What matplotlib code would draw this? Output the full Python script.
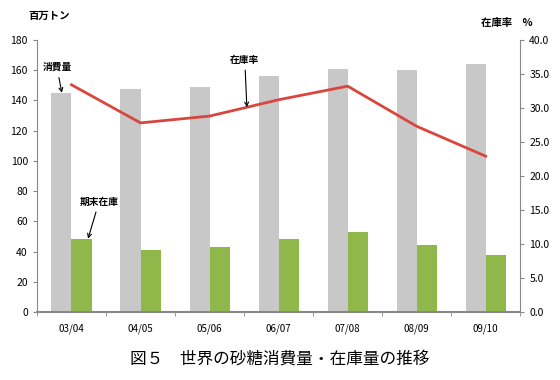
import matplotlib
matplotlib.use("Agg")
import matplotlib.pyplot as plt
import numpy as np

plt.rcParams['font.family'] = ['Noto Sans CJK JP', 'DejaVu Sans']

categories = ["03/04", "04/05", "05/06", "06/07", "07/08", "08/09", "09/10"]
consumption = [145, 147.5, 149, 156, 161, 160, 164]
stock = [48.5, 41, 43, 48.5, 53, 44, 37.5]
stock_ratio = [33.4, 27.8, 28.8, 31.2, 33.2, 27.3, 22.9]

fig = plt.figure(figsize=(5.6, 3.8), dpi=100)
ax = fig.add_axes([0.066, 0.179, 0.863, 0.716])
x = np.arange(len(categories))
w = 0.29
ax.bar(x - w/2, consumption, width=w, color="#c8c8c8", zorder=2)
ax.bar(x + w/2, stock, width=w, color="#8fb74a", zorder=2)
ax.set_xlim(-0.5, len(categories) - 0.5)
ax.set_ylim(0, 180)
ax.set_yticks(range(0, 181, 20))
ax.set_xticks(x)
ax.set_xticklabels(categories, fontsize=7)
ax.set_xticks(np.arange(-0.5, len(categories), 1), minor=True)
ax.tick_params(axis='x', which='major', length=0, pad=8)
ax.tick_params(axis='x', which='minor', length=3, color="#888888")
ax.tick_params(axis='y', labelsize=7.5, length=3, color="#888888")
ax.spines["top"].set_visible(False)
ax.spines["left"].set_color("#888888")
ax.spines["bottom"].set_color("#888888")
ax.spines["bottom"].set_linewidth(1.5)
ax.spines["right"].set_visible(False)

ax2 = ax.twinx()
ax2.plot(x, stock_ratio, color="#d9463e", lw=2, zorder=3)
ax2.set_ylim(0, 40)
ax2.set_yticks(np.arange(0, 41, 5))
ax2.set_yticklabels([f"{v:.1f}" for v in np.arange(0, 41, 5)])
ax2.tick_params(axis='y', labelsize=7.5, length=3, color="#888888")
ax2.spines["top"].set_visible(False)
ax2.spines["left"].set_visible(False)
ax2.spines["bottom"].set_visible(False)
ax2.spines["right"].set_color("#888888")

fig.text(0.05, 0.958, "百万トン", fontsize=7.5, fontweight="bold", ha="left", va="center")
fig.text(0.952, 0.94, "在庫率　%", fontsize=7.5, fontweight="bold", ha="right", va="center")

arrow = dict(arrowstyle="->", color="black", lw=0.8, shrinkA=2, shrinkB=0)
ax.annotate("消費量", xy=(-0.14, consumption[0]), xytext=(-0.21, 162),
            fontsize=7, fontweight="bold", ha="center", va="center", arrowprops=arrow)
ax2.annotate("在庫率", xy=(2.54, 30.1), xytext=(2.51, 37.1),
             fontsize=7, fontweight="bold", ha="center", va="center", arrowprops=arrow)
ax.annotate("期末在庫", xy=(0.24, stock[0]), xytext=(0.40, 73),
            fontsize=7, fontweight="bold", ha="center", va="center", arrowprops=arrow)

fig.text(0.5, 0.055, "図５　世界の砂糖消費量・在庫量の推移", fontsize=12, ha="center", va="center")

fig.savefig("out.png", dpi=100)
